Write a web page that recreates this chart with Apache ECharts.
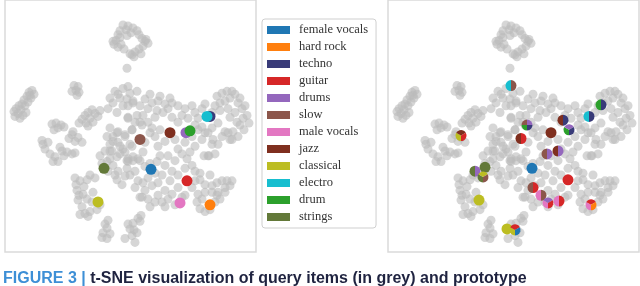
<!DOCTYPE html>
<html><head><meta charset="utf-8">
<script src="https://cdn.jsdelivr.net/npm/echarts@6/dist/echarts.min.js"></script>
<style>html,body{margin:0;padding:0;background:#fff}#c{width:640px;height:286px}</style>
</head><body><div id="c"></div>
<script>
const categories = ['female vocals','hard rock','techno','guitar','drums','slow','male vocals','jazz','classical','electro','drum','strings'];
const categoryColors = ['#1f77b4','#ff7f0e','#393b79','#d62728','#9467bd','#8c564b','#e377c2','#7f2f1f','#bcbd22','#17becf','#2ca02c','#637939'];
// prototype positions (left panel, t-SNE units)
const prototypeX = [151,210,210,187,186,140,180,170,98,207,190,104];
const prototypeY = [166,203,111,178,128,135,201,128,200,111,126,165];
// query items (grey)
const queryPoints = [
[123,16],[128,17],[133,19],[137,22],[126,21],[139,26],[142,30],[145,33],[148,35],[143,38],[139,41],[135,44],[132,47],[134,49],[130,46],[120,29],[116,32],[114,36],[118,39],[121,36],[124,41],[127,27],[131,24],[120,22],[118,26],[141,46],[146,31],[113,33],
[127,61],
[32,84],[29,86],[34,88],[27,90],[31,92],[24,94],[28,96],[22,98],[19,100],[25,100],[16,103],[21,104],[14,106],[18,108],[23,110],[15,111],[20,113],[30,89],[26,107],
[74,79],[78,80],[76,84],[72,85],[79,86],[77,89],
[52,119],[56,118],[61,120],[58,123],[64,122],[54,125],
[92,104],[88,107],[85,110],[95,108],[82,114],[90,113],[98,111],[79,118],[86,118],[100,105],[93,117],[88,121],
[72,130],[78,133],[82,138],[75,137],[73,127],[69,134],
[43,140],[48,138],[45,145],[50,150],[55,153],[58,158],[62,147],[67,148],[72,150],[75,149],[60,143],[53,158],[42,136],[64,152],
[100,152],[105,147],[110,155],[107,158],[113,162],[118,168],[125,173],[117,177],[122,182],[110,140],[118,138],[123,145],[128,155],[113,132],[118,127],[102,160],[108,168],[115,172],[120,150],[112,147],
[75,175],[80,178],[87,177],[90,172],[95,175],[77,188],[83,192],[78,198],[82,205],[85,212],[90,210],[97,208],[100,203],[92,200],[87,197],[80,213],[88,215],[76,182],[84,184],[93,190],[79,193],
[108,219],[107,227],[103,232],[102,237],[107,238],[110,233],[105,223],
[138,217],[133,222],[130,228],[132,235],[135,242],[128,223],[137,232],[140,220],[125,238],[134,229],[141,214],
[115,85],[123,82],[128,80],[120,92],[113,97],[108,103],[117,107],[123,100],[133,97],[140,100],[137,110],[128,112],[140,117],[130,87],[137,85],[127,93],[133,95],[128,100],[118,88],[110,92],
[110,123],[117,128],[107,132],[113,137],[120,142],[110,147],[117,153],[125,148],[130,140],[133,153],[140,157],[127,157],[125,130],[132,125],
[145,93],[152,97],[158,95],[165,98],[148,103],[157,105],[163,107],[143,110],[168,103],[172,97],[178,100],[185,103],[192,100],[195,107],[182,110],[188,113],[198,113],[178,117],[202,103],[205,98],[150,88],[160,90],[170,92],[155,112],[172,112],
[217,90],[222,87],[227,85],[232,85],[235,88],[230,92],[225,95],[220,97],[238,97],[242,103],[247,110],[243,113],[235,107],[228,103],[215,100],[212,107],[237,117],[240,92],[245,100],[220,105],[230,112],[249,118],
[128,113],[135,117],[142,120],[132,125],[148,117],[152,123],
[202,122],[212,123],[218,118],[225,127],[205,128],[195,120],
[240,120],[233,127],[230,135],[238,132],[213,135],[204,152],[209,152],[244,125],
[125,132],[132,142],[145,138],[155,132],[158,142],[175,135],[178,145],[192,132],[195,142],[202,135],[208,128],[212,140],[222,132],[228,128],[232,135],[215,150],[208,152],[185,138],[165,137],[150,128],[160,125],[198,125],[218,140],
[127,165],[130,172],[135,168],[138,178],[140,195],[145,188],[152,183],[158,180],[162,172],[157,158],[160,152],[165,162],[138,155],[143,148],[133,157],[148,175],[128,158],[145,163],[150,160],[155,170],[135,185],[143,180],
[168,152],[175,157],[172,168],[178,185],[172,192],[182,195],[165,188],[168,197],[187,155],[192,162],[195,168],[192,185],[185,165],[178,172],[170,178],[190,148],[182,150],
[195,178],[200,177],[205,182],[212,183],[217,180],[222,178],[227,178],[230,183],[225,190],[218,190],[212,190],[205,190],[198,192],[197,200],[200,207],[205,210],[210,208],[202,197],[217,193],[225,185],[232,178],[215,200],[220,197],[200,170],[210,172],
[142,195],[148,197],[158,193],[162,200],[155,200],[185,193],[150,205],[165,205],[175,203]
];
// mixed prototypes (right panel)
const mixedX = [128,78,144,138,218,206,180,186,168,164,175,92,102,100,149,150,96,124,132,185,158,165,176,208];
const mixedY = [79,131,120,134,99,111,115,125,128,150,147,168,164,174,165,185,198,228,229,177,193,201,199,203];
const mixedParts = [
['electro','slow'],['classical','jazz','guitar'],['drum','slow','drums','techno'],['jazz','guitar'],
['drum','techno'],['electro','techno'],['jazz','techno'],['drum','drums','techno'],['jazz'],
['slow','drums'],['jazz','drums'],['strings','drums'],['strings'],['strings','classical','slow'],
['female vocals'],['slow','guitar'],['classical'],['classical'],['classical','guitar','female vocals'],
['guitar'],['male vocals','slow'],['male vocals','drums','guitar'],['male vocals','guitar'],['male vocals','guitar','hard rock']
];
const captionLead = 'FIGURE 3 | ';
const captionText = 't-SNE visualization of query items (in grey) and prototype';

const chart = echarts.init(document.getElementById('c'), null, {renderer:'canvas'});
const gridBase = {top:-10, height:262, width:251, show:true, borderColor:'#dadada', borderWidth:1.5, backgroundColor:'#fff'};
const axisX = i => ({type:'value', gridIndex:i, min:5, max:256, show:false});
const axisY = i => ({type:'value', gridIndex:i, min:-10, max:252, inverse:true, show:false});
const greySeries = i => ({type:'scatter', xAxisIndex:i, yAxisIndex:i, data:queryPoints, symbolSize:9, silent:true, z:1,
  itemStyle:{color:'#bababa', opacity:0.6}});
const protoSeries = categories.map((c,i)=>({type:'scatter', name:c, xAxisIndex:0, yAxisIndex:0, z:3,
  data:[[prototypeX[i], prototypeY[i]]], symbolSize:11, itemStyle:{color:categoryColors[i], opacity:1}}));
const mixedSeries = {
  type:'custom', xAxisIndex:1, yAxisIndex:1, z:3, silent:true,
  data: mixedX.map((x,i)=>[x, mixedY[i], i]),
  encode:{x:0, y:1},
  renderItem(params, api){
    const idx = api.value(2);
    const pt = api.coord([api.value(0), api.value(1)]);
    const parts = mixedParts[idx];
    const n = parts.length, r = 5.5;
    if (n === 1) return {type:'circle', shape:{cx:pt[0], cy:pt[1], r:r}, style:{fill:categoryColors[categories.indexOf(parts[0])]}};
    return {type:'group', children: parts.map((c,k)=>({type:'sector',
      shape:{cx:pt[0], cy:pt[1], r:r, r0:0, startAngle:Math.PI/2 + k*2*Math.PI/n, endAngle:Math.PI/2 + (k+1)*2*Math.PI/n, clockwise:true},
      style:{fill:categoryColors[categories.indexOf(c)]}}))};
  }
};
chart.setOption({
  animation:false,
  grid:[Object.assign({left:5}, gridBase), Object.assign({left:388}, gridBase)],
  xAxis:[axisX(0), axisX(1)],
  yAxis:[axisY(0), axisY(1)],
  legend:{data:categories, orient:'vertical', left:262, top:19, icon:'rect', itemWidth:23, itemHeight:8, itemGap:3,
    padding:[4,8,4,5], borderColor:'#cfcfcf', borderWidth:1, borderRadius:3, backgroundColor:'#fff', selectedMode:false,
    textStyle:{fontFamily:'Liberation Serif', fontSize:12.5, color:'#333', lineHeight:14, padding:[0,0,0,4]}},
  graphic:[{type:'text', left:3, top:271, silent:true,
    style:{text:'{a|'+captionLead+'}{b|'+captionText+'}',
      rich:{a:{fontFamily:'Liberation Sans', fontWeight:'bold', fontSize:16, fill:'#3d8fd6', color:'#3d8fd6'},
            b:{fontFamily:'Liberation Sans', fontWeight:'bold', fontSize:16, fill:'#1f2340', color:'#1f2340'}}}}],
  series:[greySeries(0), greySeries(1), ...protoSeries, mixedSeries]
});
</script></body></html>
